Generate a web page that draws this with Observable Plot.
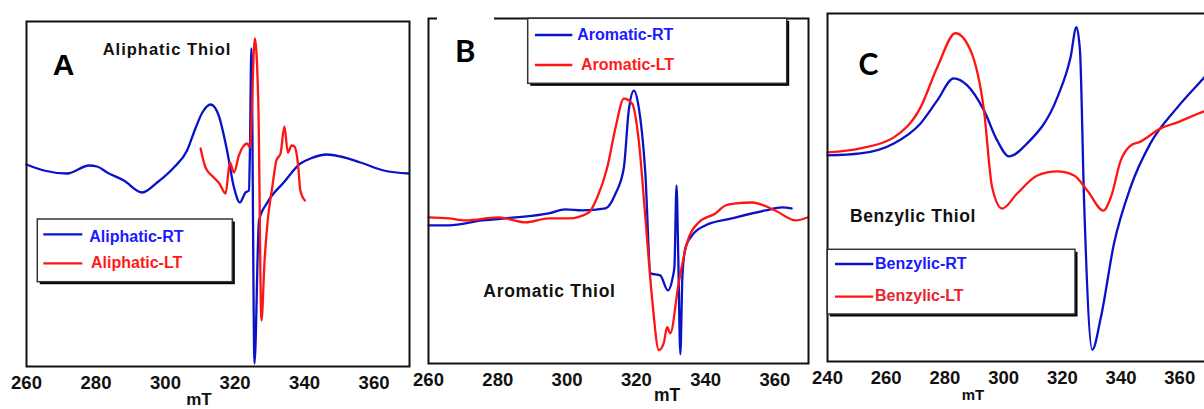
<!DOCTYPE html>
<html><head><meta charset="utf-8">
<script src="https://cdn.jsdelivr.net/npm/d3@7"></script>
<script src="https://cdn.jsdelivr.net/npm/@observablehq/plot@0.6"></script>
<style>
body{margin:0;background:#fff;}
#wrap{position:relative;width:1204px;height:409px;overflow:hidden;background:#fff;}
#wrap > svg{position:absolute;top:0;}
</style></head><body><div id="wrap"></div>
<script>
// ---------- DATA (field in mT, intensity in arbitrary units) ----------
const aliphaticRT = [[260,1],[265,-5],[271.7,-8],[278,0],[280.3,-1],[283.2,-7],[288,-15],[293.3,-27],[297.6,-17],[302.4,-2],[306.2,15],[308.6,37],[310.6,53],[313,61],[315.3,50],[317.7,15],[319.7,-22],[321.4,-37],[323,-27],[324,-25],[324.3,18],[324.7,117],[325.6,-198],[326.9,-55],[329.3,-37],[334,-17],[338.8,2],[341.7,7],[346.5,11],[350.4,9],[356.1,3],[362.8,-5],[370,-8]];
const aliphaticLT = [[310.1,17],[311.5,-2],[313.9,-12],[315.5,-18],[317.3,-28],[318.5,3],[319.7,-7],[321.1,10],[323.5,22],[324.3,18],[325.7,127],[326.7,62],[327.6,-155],[328.5,-95],[329.4,-55],[330.7,-22],[331.9,5],[333.1,12],[334.2,39],[335.2,13],[336.3,20],[337.1,19],[338.1,2],[338.8,-25],[340.1,-35]];
const aromaticRT = [[260,-9],[265.9,-9],[275.5,-4],[285.1,-1],[294.7,3],[299.5,7],[304.4,6],[311.1,8],[314,23],[316.4,49],[317.8,106],[319.3,126],[320.7,109],[322.6,43],[324.1,-57],[326.9,-59],[329.1,-74],[330.5,-61],[331,-50],[331.6,31],[332.1,-40],[332.7,-138],[333.3,-60],[334.2,-31],[336.1,-19],[339.9,-9],[347.6,-2],[357.3,6],[362.1,9],[364.8,8]];
const aromaticLT = [[260,-1],[265.9,-2],[270.7,-4],[280.3,-1],[288,-6],[294.7,-2],[300.5,-2],[306.3,4],[308.7,19],[311.6,49],[314,89],[316.4,118],[318.8,113],[320.7,76],[322.6,-1],[324.6,-84],[326.5,-134],[327.9,-127],[328.9,-111],[329.8,-117],[332.2,-67],[334.6,-27],[338,-6],[342.8,3],[345.7,11],[348.6,13],[353.4,14],[360.1,6],[366,-4],[369.4,-1]];
const benzylicRT = [[240,0],[251.2,2],[262.6,12],[271.7,32],[277.4,55],[283,77],[287.6,70],[293.3,45],[297.8,15],[301.8,-1],[308,12],[318.3,58],[322.8,98],[324.8,128],[326,105],[327.4,-45],[330.2,-194],[333.1,-162],[337.6,-88],[343.2,-32],[350,12],[359.2,48],[368.4,78],[372,90]];
const benzylicLT = [[240,3],[251.2,7],[262.6,18],[271.7,48],[277.4,88],[283.6,122],[288.7,105],[293.3,45],[296.1,-32],[299.5,-53],[304.6,-38],[311.5,-20],[318.3,-16],[324,-20],[328.5,-35],[334,-55],[336.5,-42],[339.9,-5],[343.8,11],[346,13],[353.5,27],[359.2,33],[368.4,44],[372,47]];

const ticksAB = [260,280,300,320,340,360];
const ticksC = [240,260,280,300,320,340,360];
const namesA = ["Aliphatic-RT","Aliphatic-LT"];
const namesB = ["Aromatic-RT","Aromatic-LT"];
const namesC = ["Benzylic-RT","Benzylic-LT"];
const titles = ["Aliphatic Thiol","Aromatic Thiol","Benzylic Thiol"];
const letters = ["A","B","C"];
const axisLabel = "mT";

// ---------- LAYOUT ----------
const BLUE = "#0a12c8", RED = "#ff1414";
const panels = [
  {left:0, width:420, mt:21, mb:43, ml:26, mr:11, xd:[260,370.2], yd:[-201,144], ticks:ticksAB, rt:aliphaticRT, lt:aliphaticLT},
  {left:413, width:400, mt:18, mb:46, ml:15, mr:5, xd:[260,369.7], yd:[-147.3,198.3], ticks:ticksAB, rt:aromaticRT, lt:aromaticLT},
  {left:812, width:422, mt:13, mb:48, ml:15, mr:11, xd:[240,374.9], yd:[-205.7,141.7], ticks:ticksC, rt:benzylicRT, lt:benzylicLT}
];
const wrap = document.getElementById("wrap");
for (const p of panels) {
  const svg = Plot.plot({
    width: p.width, height: 409,
    marginTop: p.mt, marginBottom: p.mb, marginLeft: p.ml, marginRight: p.mr,
    style: {fontFamily: "'Liberation Sans', Arial, sans-serif", fontSize: "18.5px", fontWeight: "bold", background: "none", overflow: "visible", color: "#111"},
    x: {domain: p.xd},
    y: {domain: p.yd, axis: null},
    marks: [
      Plot.line(p.rt, {x: d => d[0], y: d => d[1], stroke: BLUE, strokeWidth: 2.3, curve: "monotone-x"}),
      Plot.line(p.lt, {x: d => d[0], y: d => d[1], stroke: RED, strokeWidth: 2.3, curve: "monotone-x"}),
      Plot.frame({stroke: "#111", strokeWidth: 2}),
      Plot.axisX(p.ticks, {tickSize: 0, tickPadding: 9, label: null})
    ]
  });
  svg.style.left = p.left + "px";
  wrap.appendChild(svg);
}

// ---------- ANNOTATIONS (legends, titles, panel letters, axis titles) ----------
const ov = d3.select(wrap).append("svg").attr("width",1204).attr("height",409)
  .style("position","absolute").style("left","0px").style("top","0px");
const SANS = "'Liberation Sans', Arial, sans-serif";
function txt(s, x, y, size, fill, family, ls, anchor) {
  ov.append("text").attr("x",x).attr("y",y).attr("font-family",family||SANS)
    .attr("font-size",size).attr("font-weight","bold").attr("fill",fill)
    .attr("letter-spacing",ls||0).attr("text-anchor",anchor||"start").text(s);
}
function legend(bx, by, bw, bh, lx1, lx2, ly, names, tx, ty, colors) {
  ov.append("rect").attr("x",bx+2.5).attr("y",by+2.5).attr("width",bw).attr("height",bh).attr("fill","#000");
  ov.append("rect").attr("x",bx).attr("y",by).attr("width",bw).attr("height",bh).attr("fill","#fff").attr("stroke","#333").attr("stroke-width",1.5);
  [BLUE, RED].forEach((c,i) => {
    ov.append("line").attr("x1",lx1).attr("x2",lx2).attr("y1",ly[i]).attr("y2",ly[i]).attr("stroke",c).attr("stroke-width",2.3);
    txt(names[i], tx[i], ty[i], 16, colors[i], SANS, 0);
  });
}
// white gap on B's top frame
ov.append("rect").attr("x",437).attr("y",14).attr("width",57).attr("height",6.5).attr("fill","#fff");

// axis titles
txt(axisLabel, 199, 404.5, 17, "#111", SANS, 0, "middle");
txt(axisLabel, 667, 400.5, 17.5, "#111", SANS, 0, "middle");
txt(axisLabel, 973, 400, 15, "#111", SANS, 0, "middle");

txt(letters[0], 52.7, 75, 30, "#000");
txt(titles[0], 102.7, 55, 16.5, "#111", SANS, 1);
legend(37.3, 219, 195, 62.7, 43.3, 82.3, [234.3,263.3], namesA, [89.3,91], [241.7,268.3], ["#1a1aff","#ff1a1a"]);

txt(letters[1], 455, 61.7, 31, "#000", "Lato, 'Open Sans', sans-serif");
legend(527.7, 18.3, 259, 65, 535, 572.3, [35,65], namesB, [577.3,581], [40,70], ["#1a1aff","#ff1a1a"]);
txt(titles[1], 483.3, 296.7, 17.5, "#111", SANS, 0.7);

txt(letters[2], 858.5, 75, 30, "#000", "Lato, 'Open Sans', sans-serif");
txt(titles[2], 850, 221.7, 17.5, "#111", SANS, 0.6);
legend(827.3, 249.3, 247.7, 64.7, 835, 873.3, [264,296.7], namesC, [875,875], [269.3,301], ["#1a1aff","#e8262e"]);
</script></body></html>
